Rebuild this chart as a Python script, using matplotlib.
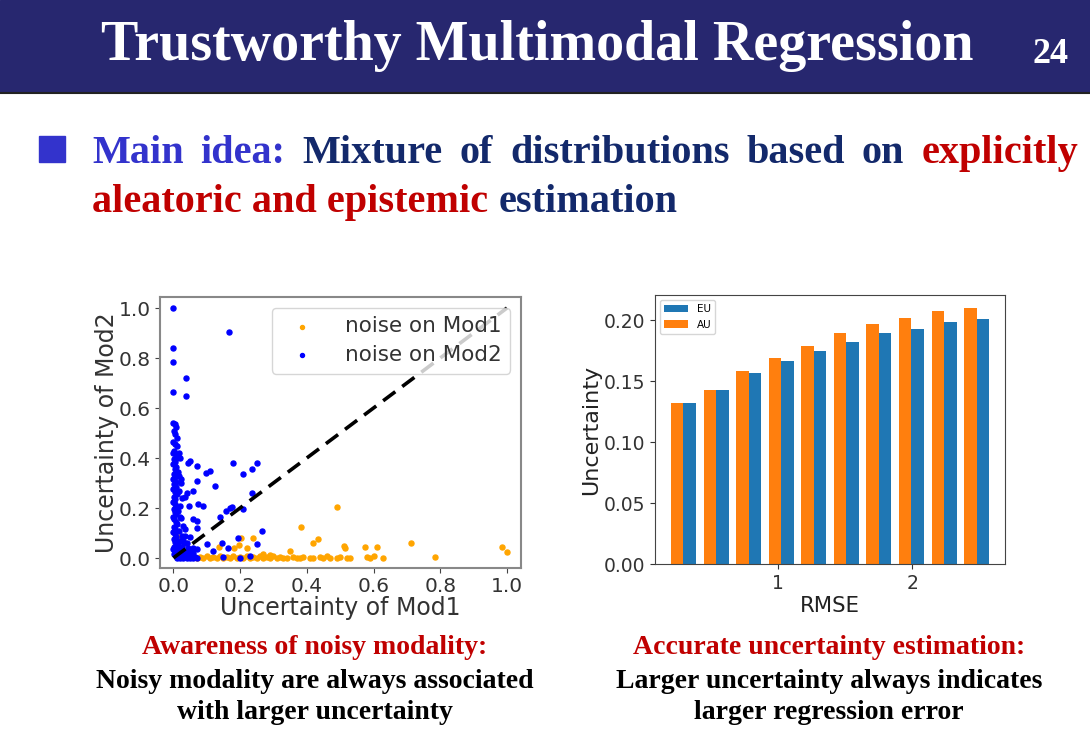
import numpy as np
import matplotlib.pyplot as plt
from matplotlib.patches import Rectangle
from matplotlib.lines import Line2D

# left chart: uncertainty of each modality, (mod1, mod2) per sample
noise_mod1 = [
    (0.07, 0.0), (0.08, 0.005), (0.09, 0.0), (0.10, 0.01), (0.11, 0.0), (0.12, 0.005),
    (0.13, 0.0), (0.14, 0.01), (0.15, 0.0), (0.16, 0.005), (0.17, 0.0), (0.18, 0.01),
    (0.19, 0.0), (0.20, 0.005), (0.21, 0.0), (0.22, 0.01), (0.23, 0.0), (0.24, 0.005),
    (0.25, 0.0), (0.26, 0.01), (0.27, 0.0), (0.28, 0.005), (0.29, 0.0), (0.30, 0.01),
    (0.31, 0.0), (0.32, 0.005), (0.33, 0.0), (0.34, 0.0), (0.36, 0.005), (0.37, 0.0),
    (0.38, 0.0), (0.39, 0.005), (0.41, 0.0), (0.42, 0.0), (0.44, 0.005), (0.45, 0.0),
    (0.46, 0.01), (0.47, 0.0), (0.49, 0.0), (0.50, 0.005), (0.53, 0.0), (0.58, 0.003),
    (0.59, 0.0), (0.60, 0.01), (0.628, 0.0), (0.29, 0.012), (0.27, 0.015), (0.52, 0.0),
    (0.015, 0.04), (0.036, 0.06), (0.015, 0.085), (0.136, 0.043), (0.198, 0.052),
    (0.203, 0.079), (0.222, 0.039), (0.239, 0.079), (0.183, 0.04), (0.35, 0.03),
    (0.384, 0.123), (0.42, 0.06), (0.433, 0.075), (0.492, 0.203), (0.51, 0.05),
    (0.515, 0.04), (0.575, 0.045), (0.61, 0.045), (0.713, 0.06), (0.785, 0.003),
    (0.985, 0.045), (1.0, 0.025),
]
noise_mod2 = [
    (0.000, 0.540), (0.004, 0.535), (0.008, 0.525), (0.002, 0.510), (0.006, 0.495),
    (0.010, 0.480), (0.000, 0.465), (0.005, 0.455), (0.012, 0.450), (0.003, 0.430),
    (0.000, 0.420), (0.007, 0.410), (0.010, 0.400), (0.002, 0.395), (0.005, 0.385),
    (0.000, 0.375), (0.008, 0.365), (0.004, 0.355), (0.011, 0.345), (0.001, 0.335),
    (0.006, 0.325), (0.000, 0.315), (0.009, 0.305), (0.003, 0.295), (0.007, 0.285),
    (0.000, 0.275), (0.005, 0.265), (0.010, 0.255), (0.002, 0.245), (0.006, 0.235),
    (0.000, 0.225), (0.004, 0.215), (0.008, 0.205), (0.001, 0.195), (0.005, 0.185),
    (0.009, 0.175), (0.000, 0.165), (0.003, 0.155), (0.007, 0.145), (0.011, 0.135),
    (0.002, 0.125), (0.006, 0.115), (0.000, 0.105), (0.004, 0.095), (0.008, 0.085),
    (0.001, 0.075), (0.005, 0.065), (0.010, 0.055), (0.003, 0.045), (0.000, 0.035),
    (0.006, 0.025), (0.002, 0.015),
    (0.018, 0.42), (0.020, 0.40), (0.016, 0.33), (0.022, 0.30), (0.018, 0.27),
    (0.025, 0.24), (0.020, 0.21), (0.015, 0.19), (0.023, 0.16), (0.030, 0.13),
    (0.018, 0.11), (0.026, 0.09), (0.020, 0.07), (0.032, 0.06), (0.015, 0.05),
    (0.01, 0.0), (0.02, 0.0), (0.03, 0.0), (0.04, 0.0), (0.05, 0.0), (0.06, 0.0),
    (0.07, 0.0), (0.015, 0.01), (0.025, 0.012), (0.035, 0.008), (0.045, 0.015),
    (0.055, 0.01), (0.065, 0.005), (0.02, 0.025), (0.03, 0.03), (0.04, 0.022),
    (0.05, 0.03), (0.06, 0.02), (0.01, 0.04), (0.025, 0.045), (0.045, 0.04),
    (0.015, 0.06), (0.03, 0.07), (0.035, 0.09),
    (0.0, 1.0), (0.168, 0.904), (0.0, 0.84), (0.0, 0.785), (0.039, 0.719),
    (0.0, 0.665), (0.037, 0.65), (0.043, 0.38), (0.05, 0.39), (0.07, 0.37),
    (0.098, 0.34), (0.11, 0.35), (0.125, 0.29), (0.18, 0.38), (0.21, 0.335),
    (0.236, 0.355), (0.25, 0.38), (0.235, 0.26), (0.07, 0.31), (0.015, 0.345),
    (0.024, 0.315), (0.04, 0.26), (0.036, 0.245), (0.06, 0.27), (0.047, 0.21),
    (0.073, 0.215), (0.09, 0.21), (0.157, 0.19), (0.17, 0.2), (0.175, 0.205),
    (0.21, 0.195), (0.14, 0.165), (0.06, 0.155), (0.07, 0.15), (0.02, 0.165),
    (0.072, 0.12), (0.036, 0.115), (0.265, 0.11), (0.195, 0.08), (0.145, 0.06),
    (0.1, 0.055), (0.12, 0.03), (0.165, 0.04), (0.25, 0.055), (0.07, 0.035),
    (0.15, 0.005), (0.2, 0.0), (0.23, 0.01), (0.05, 0.085), (0.04, 0.06), (0.06, 0.04),
]

# right chart: mean uncertainty per RMSE bin
rmse_bins = [0.295, 0.538, 0.780, 1.023, 1.265, 1.508, 1.751, 1.993, 2.236, 2.478]
au = [0.132, 0.1426, 0.158, 0.169, 0.179, 0.189, 0.1965, 0.2014, 0.2074, 0.210]
eu = [0.132, 0.1426, 0.1568, 0.1667, 0.1746, 0.182, 0.189, 0.193, 0.1986, 0.2006]

serif = 'Liberation Serif'
navy = '#13296b'
red = '#c00000'

fig = plt.figure(figsize=(10.9, 7.55), dpi=100)

def fy(py):
    return 1 - py / 755

# title bar
fig.add_artist(Rectangle((0, fy(92)), 1, 92 / 755, transform=fig.transFigure,
                         color='#27276f', zorder=0))
fig.add_artist(Line2D([0, 1], [fy(93), fy(93)], transform=fig.transFigure,
                      color='#222222', lw=1.5))
fig.text(537 / 1090, fy(60), 'Trustworthy Multimodal Regression', family=serif,
         weight='bold', fontsize=40.3, color='white', ha='center', va='baseline')
fig.text(1050 / 1090, fy(63), '24', family=serif, weight='bold', fontsize=26,
         color='white', ha='center', va='baseline')

# bullet line, first line justified between x=92 and x=1078
fig.add_artist(Rectangle((39 / 1090, fy(162)), 26 / 1090, 26 / 755,
                         transform=fig.transFigure, color='#3333cc'))
blue_word = '#3333cc'
words = [('Main', blue_word), ('idea:', blue_word), ('Mixture', navy), ('of', navy),
         ('distributions', navy), ('based', navy), ('on', navy), ('explicitly', red)]
renderer = fig.canvas.get_renderer()
texts = [fig.text(0, fy(163), w, family=serif, weight='bold', fontsize=29,
                  color=c, ha='left', va='baseline') for w, c in words]
widths = [t.get_window_extent(renderer).width for t in texts]
gap = (1078 - 92 - sum(widths)) / (len(texts) - 1)
xpos = 92
for t, wd in zip(texts, widths):
    t.set_x(xpos / 1090)
    xpos += wd + gap
fig.text(92 / 1090, fy(212), 'aleatoric and epistemic', family=serif, weight='bold',
         fontsize=29, color=red, ha='left', va='baseline')
fig.text(499 / 1090, fy(212), 'estimation', family=serif, weight='bold',
         fontsize=29, color=navy, ha='left', va='baseline')

# scatter
ax1 = fig.add_axes([160 / 1090, 1 - 568 / 755, 361 / 1090, 271 / 755])
m1 = np.array(noise_mod1).T
m2 = np.array(noise_mod2).T
ax1.scatter(m1[0], m1[1], s=13, color='orange', label='noise on Mod1', zorder=2)
ax1.scatter(m2[0], m2[1], s=13, color='blue', label='noise on Mod2', zorder=3)
ax1.plot([0, 1], [0, 1], 'k--', lw=2.6, dashes=(4.2, 2.4), zorder=4)
ax1.set_xlim(-0.04, 1.042)
ax1.set_ylim(-0.04, 1.044)
ax1.set_xticks(np.arange(0, 1.01, 0.2))
ax1.set_yticks(np.arange(0, 1.01, 0.2))
ax1.tick_params(labelsize=14.5, colors='#444444', labelcolor='#333333', pad=3)
for s in ax1.spines.values():
    s.set_color('#888888')
    s.set_linewidth(1.5)
ax1.set_xlabel('Uncertainty of Mod1', fontsize=17, color='#333333', labelpad=0)
ax1.set_ylabel('Uncertainty of Mod2', fontsize=17, color='#333333', labelpad=0)
leg = ax1.legend(loc='upper right', fontsize=15.5, markerscale=0.8, handletextpad=1.0,
                 borderpad=0.4, labelspacing=0.4, borderaxespad=0.5)
for t in leg.get_texts():
    t.set_color('#333333')

# bars
ax2 = fig.add_axes([655 / 1090, 1 - 564 / 755, 350 / 1090, 269 / 755])
w = 0.093
x = np.array(rmse_bins)
ax2.bar(x + w / 2, eu, w, color='#1f77b4', label='EU')
ax2.bar(x - w / 2, au, w, color='#ff7f0e', label='AU')
ax2.set_xticks([1, 2])
ax2.set_yticks(np.arange(0, 0.201, 0.05))
ax2.yaxis.set_major_formatter(plt.FormatStrFormatter('%.2f'))
ax2.tick_params(labelsize=13.5, colors='#333333')
for s in ax2.spines.values():
    s.set_color('#444444')
ax2.set_xlabel('RMSE', fontsize=15.3, color='#222222', labelpad=2)
ax2.set_ylabel('Uncertainty', fontsize=16, color='#222222', labelpad=2)
ax2.legend(loc='upper left', fontsize=7.5, handlelength=2.3)

# captions
caps = [
    (315, ['Awareness of noisy modality:', 'Noisy modality are always associated',
           'with larger uncertainty']),
    (829, ['Accurate uncertainty estimation:', 'Larger uncertainty always indicates',
           'larger regression error']),
]
for cx, lines in caps:
    for i, (txt, py) in enumerate(zip(lines, [654, 688, 719])):
        fig.text(cx / 1090, fy(py), txt, family=serif, weight='bold', fontsize=20,
                 color=red if i == 0 else 'black', ha='center', va='baseline')

fig.savefig('out.png', dpi=100)
